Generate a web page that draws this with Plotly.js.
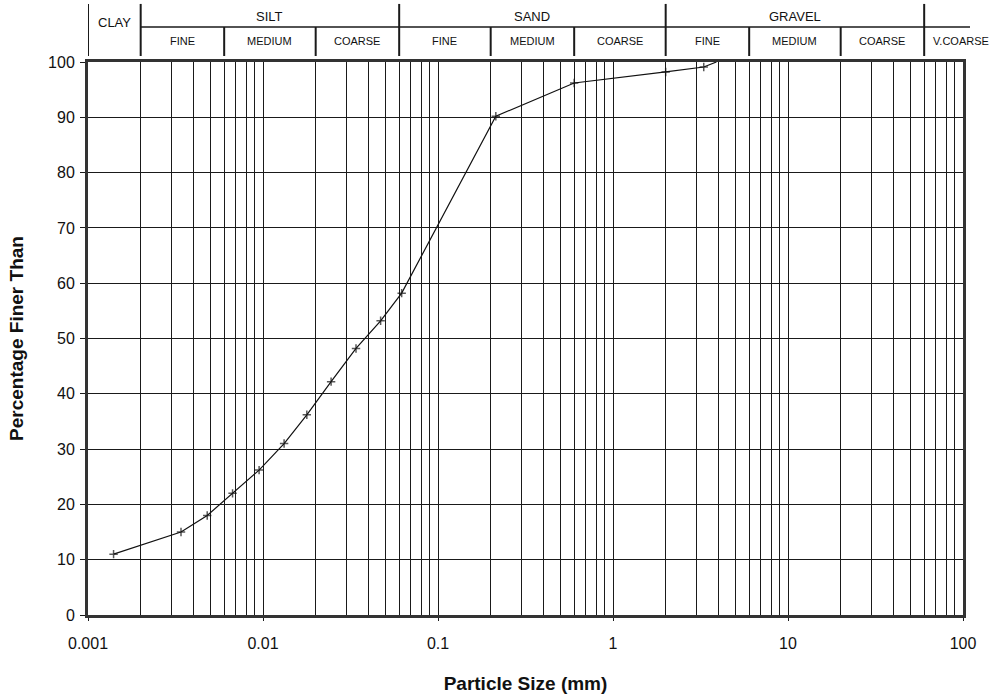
<!DOCTYPE html>
<html>
<head>
<meta charset="utf-8">
<script src="https://cdn.plot.ly/plotly-3.0.1.min.js"></script>
<style>html,body{margin:0;padding:0;background:#fff;}#chart{width:997px;height:697px;}</style>
</head>
<body>
<div id="chart"></div>
<script>
// Data
const particleSize = [0.0014, 0.0034, 0.0048, 0.0067, 0.0095, 0.0132, 0.0178, 0.0245, 0.034, 0.047, 0.062, 0.214, 0.6, 2.0, 3.3, 3.9];
const percentFiner = [11, 15, 18, 22, 26.2, 31, 36.2, 42.2, 48.2, 53.2, 58.2, 90.2, 96.2, 98.2, 99.1, 100];

// Axis ticks
const decadeTicks = [0.001, 0.01, 0.1, 1, 10, 100];
const decadeLabels = ['0.001', '0.01', '0.1', '1', '10', '100'];
const minorDigits = [2, 3, 4, 5, 6, 7, 8, 9];

// Classification bands (boundaries in mm)
const mainBounds = [0.001, 0.002, 0.06, 2, 60];
const mainNames = ['CLAY', 'SILT', 'SAND', 'GRAVEL'];
const mainRanges = [[0.001, 0.002], [0.002, 0.06], [0.06, 2], [2, 60]];
const subBounds = [0.006, 0.02, 0.2, 0.6, 6, 20];
const subNames = ['FINE', 'MEDIUM', 'COARSE', 'FINE', 'MEDIUM', 'COARSE', 'FINE', 'MEDIUM', 'COARSE', 'V.COARSE'];
const subRanges = [[0.002, 0.006], [0.006, 0.02], [0.02, 0.06], [0.06, 0.2], [0.2, 0.6], [0.6, 2], [2, 6], [6, 20], [20, 60], [60, 160]];

const minorVals = [];
for (let k = 0; k < decadeTicks.length - 1; k++) {
  minorDigits.forEach(d => minorVals.push(+(d * decadeTicks[k]).toPrecision(3)));
}

const FONT = 'Liberation Sans, Arial, sans-serif';
const lineCol = '#1a1a1a';

const yRowMainTop = 1.105, yRowMid = 1.0633, yRowBottom = 1.0108;
const shapes = [];
mainBounds.forEach(b => {
  shapes.push({type: 'line', xref: 'x', yref: 'paper', x0: b, x1: b, y0: yRowBottom, y1: yRowMainTop,
    line: {color: lineCol, width: 2}});
});
subBounds.forEach(b => {
  shapes.push({type: 'line', xref: 'x', yref: 'paper', x0: b, x1: b, y0: yRowBottom, y1: yRowMid,
    line: {color: lineCol, width: 2}});
});
shapes.push({type: 'line', xref: 'paper', yref: 'paper', x0: 0.06, x1: 1.008, y0: yRowMid, y1: yRowMid,
  line: {color: lineCol, width: 1.5}});

const annotations = [];
mainNames.forEach((n, i) => {
  const r = mainRanges[i];
  const xc = (Math.log10(r[0]) + Math.log10(r[1])) / 2;
  annotations.push({text: n, x: xc, xref: 'x', y: i === 0 ? 1.072 : 1.083, yref: 'paper',
    showarrow: false, font: {family: FONT, size: 13, color: '#111'}, xanchor: 'center', yanchor: 'middle'});
});
subNames.forEach((n, i) => {
  const r = subRanges[i];
  let xc = (Math.log10(r[0]) + Math.log10(r[1])) / 2;
  annotations.push({text: n, x: xc, xref: 'x', y: 1.038, yref: 'paper',
    showarrow: false, font: {family: FONT, size: 11, color: '#111'}, xanchor: 'center', yanchor: 'middle'});
});

const markerSizes = particleSize.map((_, i) => i === particleSize.length - 1 ? 0 : 6);

const trace = {
  x: particleSize, y: percentFiner, type: 'scatter', mode: 'lines+markers',
  line: {color: '#111', width: 1.2},
  marker: {symbol: 'cross-thin-open', size: markerSizes, line: {color: '#111', width: 1.5}, color: '#111'},
  cliponaxis: true, hoverinfo: 'x+y'
};

const layout = {
  width: 997, height: 697,
  margin: {l: 88, r: 34, t: 62, b: 82},
  paper_bgcolor: '#fff', plot_bgcolor: '#fff',
  showlegend: false,
  font: {family: FONT, color: '#111'},
  xaxis: {
    type: 'log', range: [-3, 2],
    tickvals: decadeTicks, ticktext: decadeLabels,
    ticks: 'outside', ticklen: 3, tickcolor: lineCol,
    ticklabelstandoff: 9,
    tickfont: {family: FONT, size: 16, color: '#111'},
    showgrid: true, gridcolor: lineCol, gridwidth: 1,
    minor: {tickvals: minorVals, showgrid: true, gridcolor: lineCol, gridwidth: 1, ticks: ''},
    showline: true, linecolor: '#333', linewidth: 3, mirror: true,
    zeroline: false,
    title: {text: '<b>Particle Size (mm)</b>', font: {family: 'Liberation Sans Narrow, Liberation Sans, Arial, sans-serif', size: 19, color: '#111'}, standoff: 26}
  },
  yaxis: {
    range: [0, 100], dtick: 10, tick0: 0,
    ticks: 'outside', ticklen: 5, tickcolor: lineCol,
    ticklabelstandoff: 2,
    tickfont: {family: FONT, size: 16, color: '#111'},
    showgrid: true, gridcolor: lineCol, gridwidth: 1,
    showline: true, linecolor: '#333', linewidth: 3, mirror: true,
    zeroline: false,
    title: {text: '<b>Percentage Finer Than</b>', font: {family: 'Liberation Sans Narrow, Liberation Sans, Arial, sans-serif', size: 19, color: '#111'}, standoff: 20}
  },
  shapes: shapes,
  annotations: annotations
};

Plotly.newPlot('chart', [trace], layout, {displayModeBar: false, staticPlot: true});
</script>
</body>
</html>
